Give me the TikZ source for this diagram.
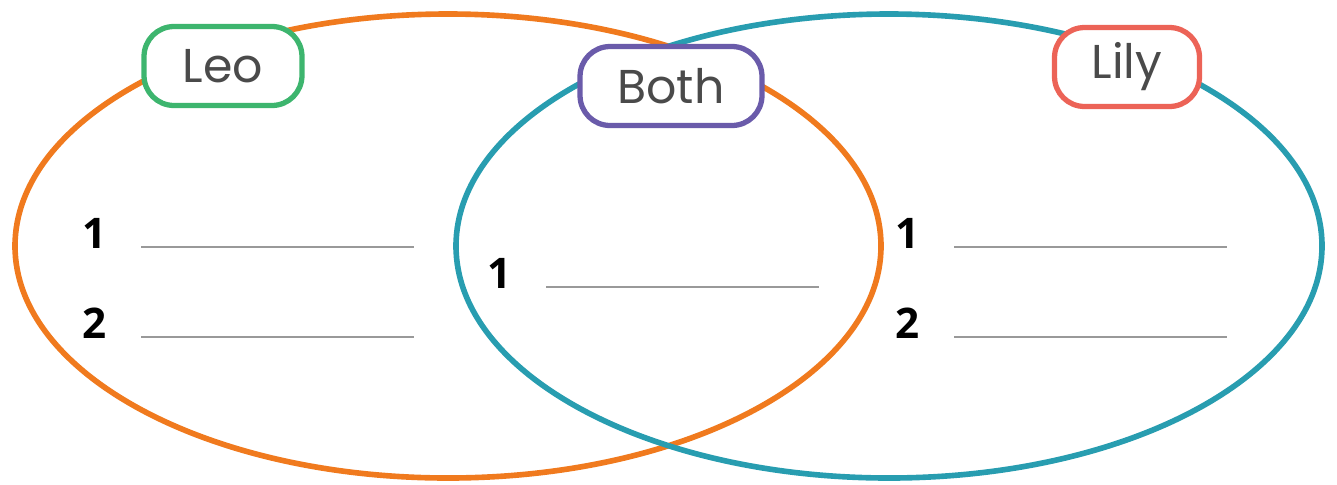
\documentclass[tikz,border=0pt]{standalone}
\usepackage{fontspec}
\usepackage{tikz}
\usetikzlibrary{calc}
\newfontfamily\namefont{Poppins}
\newfontfamily\numfont{Open Sans}
\definecolor{leoorange}{RGB}{240,122,30}
\definecolor{lilyteal}{RGB}{40,157,176}
\definecolor{leogreen}{RGB}{61,181,110}
\definecolor{bothpurple}{RGB}{106,91,170}
\definecolor{lilyred}{RGB}{236,99,87}
\definecolor{textgray}{RGB}{74,74,74}
\tikzset{
	set line/.style={line width=3.2pt},
	namebox/.style={draw, fill=white, line width=3pt, rounded corners=0.6cm,
		minimum height=1.58cm, inner sep=0pt, text=textgray,
		font=\namefont\fontsize{27}{30}\selectfont},
	numlabel/.style={inner sep=0pt, font=\numfont\bfseries\fontsize{24}{28}\selectfont},
	blankline/.style={line width=0.9pt, gray!80}
}
\newcommand{\answer}[3]{
	\node[numlabel] (#1) at #2 {#3};
	\draw[blankline] ($ (#1) + (46,14) $) -- ($ (#1) + (319,14) $);
}

\begin{document}
\begin{tikzpicture}[x=0.02cm, y=-0.02cm]
	\useasboundingbox (0,0) rectangle (1337,484);
%
	\draw[set line, leoorange] (448,246) ellipse [x radius=433, y radius=232];
	\draw[set line, lilyteal] (889,246) ellipse [x radius=433, y radius=232];
%
	\node[namebox, draw=leogreen, minimum width=3.16cm] (leo) at (223,66) {Leo};
	\node[namebox, draw=bothpurple, minimum width=3.64cm] (both) at (671,86) {Both};
	\node[namebox, draw=lilyred, minimum width=2.9cm] (lily) at (1127,67) {Lily};
%
	\answer{leoone}{(95,233)}{1}
	\answer{leotwo}{(95,323)}{2}
	\answer{bothone}{(500,273)}{1}
	\answer{lilyone}{(908,233)}{1}
	\answer{lilytwo}{(908,323)}{2}
\end{tikzpicture}
\end{document}
